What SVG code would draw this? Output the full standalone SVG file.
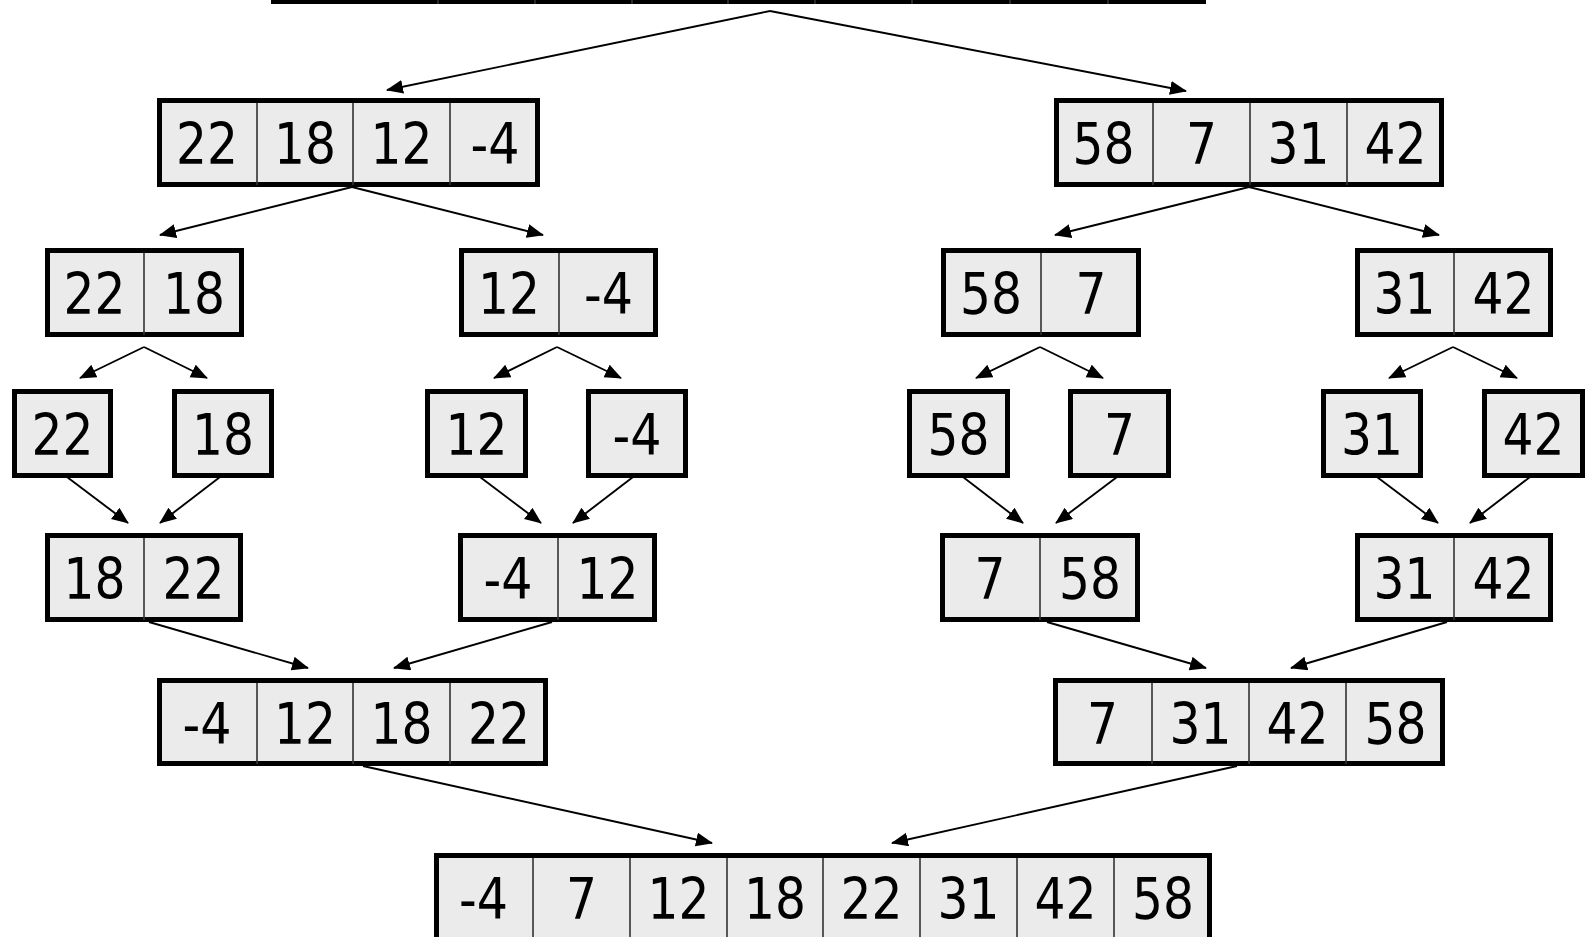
<svg xmlns="http://www.w3.org/2000/svg" width="1586" height="937" viewBox="0 0 1586 937">
<defs>
<style>
.box{fill:#ebebeb;stroke:#000;stroke-width:5}
.dv{stroke:#333;stroke-width:1.6}
.t{font-family:"DejaVu Sans",sans-serif;font-size:57px;text-anchor:middle;fill:#000}
.c{stroke:#000;stroke-width:1.9;fill:none;marker-end:url(#ah)}
</style>
<marker id="ah" markerUnits="userSpaceOnUse" markerWidth="18" markerHeight="15" refX="16" refY="7" orient="auto">
<path d="M0,0 L17,7 L0,14 z" fill="#000"/>
</marker>
</defs>
<rect width="1586" height="937" fill="#fff"/>

<g id="connectors">
<line class="c" x1="770" y1="11" x2="387" y2="90"/>
<line class="c" x1="770" y1="11" x2="1186" y2="91"/>
<line class="c" x1="352" y1="187" x2="160" y2="235"/>
<line class="c" x1="352" y1="187" x2="543" y2="235"/>
<line class="c" x1="1249" y1="187" x2="1055" y2="235"/>
<line class="c" x1="1249" y1="187" x2="1439" y2="235"/>
<line class="c" x1="144" y1="347" x2="80" y2="378"/>
<line class="c" x1="144" y1="347" x2="207" y2="378"/>
<line class="c" x1="557" y1="347" x2="494" y2="378"/>
<line class="c" x1="557" y1="347" x2="621" y2="378"/>
<line class="c" x1="1040" y1="347" x2="976" y2="378"/>
<line class="c" x1="1040" y1="347" x2="1103" y2="378"/>
<line class="c" x1="1453" y1="347" x2="1389" y2="378"/>
<line class="c" x1="1453" y1="347" x2="1517" y2="378"/>
<line class="c" x1="67" y1="477" x2="128" y2="523"/>
<line class="c" x1="220" y1="477" x2="160" y2="523"/>
<line class="c" x1="480" y1="477" x2="541" y2="523"/>
<line class="c" x1="633" y1="477" x2="573" y2="523"/>
<line class="c" x1="963" y1="477" x2="1023" y2="523"/>
<line class="c" x1="1117" y1="477" x2="1056" y2="523"/>
<line class="c" x1="1377" y1="477" x2="1438" y2="523"/>
<line class="c" x1="1530" y1="477" x2="1470" y2="523"/>
<line class="c" x1="149" y1="622" x2="308" y2="668"/>
<line class="c" x1="552" y1="622" x2="394" y2="668"/>
<line class="c" x1="1047" y1="622" x2="1206" y2="668"/>
<line class="c" x1="1447" y1="622" x2="1291" y2="668"/>
<line class="c" x1="363" y1="766" x2="712" y2="843"/>
<line class="c" x1="1237" y1="766" x2="892" y2="843"/>
</g>

<g id="top">
<rect class="box" x="273.5" y="-90" width="930" height="91.5"/>
<path class="dv" d="M438,-80V4 M535,-80V4 M632,-80V4 M728,-80V4 M815,-80V4 M912,-80V4 M1010,-80V4 M1108,-80V4"/>
</g>

<g id="l1a">
<rect class="box" x="159.5" y="100.5" width="378" height="84"/>
<path class="dv" d="M257,103V185 M353,103V185 M450,103V185"/>
<text class="t" x="207" y="164" textLength="62" lengthAdjust="spacingAndGlyphs">22</text><text class="t" x="305" y="164" textLength="62" lengthAdjust="spacingAndGlyphs">18</text><text class="t" x="401.5" y="164" textLength="62" lengthAdjust="spacingAndGlyphs">12</text><text class="t" x="495" y="164" textLength="49" lengthAdjust="spacingAndGlyphs">-4</text>
</g>
<g id="l1b">
<rect class="box" x="1056.5" y="100.5" width="385" height="84"/>
<path class="dv" d="M1153,103V185 M1250,103V185 M1347,103V185"/>
<text class="t" x="1103.5" y="164" textLength="62" lengthAdjust="spacingAndGlyphs">58</text><text class="t" x="1201.5" y="164" textLength="31" lengthAdjust="spacingAndGlyphs">7</text><text class="t" x="1298.5" y="164" textLength="62" lengthAdjust="spacingAndGlyphs">31</text><text class="t" x="1395.5" y="164" textLength="62" lengthAdjust="spacingAndGlyphs">42</text>
</g>

<g id="l2a">
<rect class="box" x="47.5" y="250.5" width="194" height="84"/>
<path class="dv" d="M144,253V335"/>
<text class="t" x="94.5" y="314" textLength="62" lengthAdjust="spacingAndGlyphs">22</text><text class="t" x="194" y="314" textLength="62" lengthAdjust="spacingAndGlyphs">18</text>
</g>
<g id="l2b">
<rect class="box" x="461.5" y="250.5" width="194" height="84"/>
<path class="dv" d="M559,253V335"/>
<text class="t" x="509" y="314" textLength="62" lengthAdjust="spacingAndGlyphs">12</text><text class="t" x="608.5" y="314" textLength="49" lengthAdjust="spacingAndGlyphs">-4</text>
</g>
<g id="l2c">
<rect class="box" x="943.5" y="250.5" width="195" height="84"/>
<path class="dv" d="M1041,253V335"/>
<text class="t" x="991" y="314" textLength="62" lengthAdjust="spacingAndGlyphs">58</text><text class="t" x="1091" y="314" textLength="31" lengthAdjust="spacingAndGlyphs">7</text>
</g>
<g id="l2d">
<rect class="box" x="1357.5" y="250.5" width="193" height="84"/>
<path class="dv" d="M1454,253V335"/>
<text class="t" x="1404.5" y="314" textLength="62" lengthAdjust="spacingAndGlyphs">31</text><text class="t" x="1503.5" y="314" textLength="62" lengthAdjust="spacingAndGlyphs">42</text>
</g>

<g id="l3a"><rect class="box" x="14.5" y="391.5" width="96" height="84"/><text class="t" x="62.5" y="455" textLength="62" lengthAdjust="spacingAndGlyphs">22</text></g>
<g id="l3b"><rect class="box" x="174.5" y="391.5" width="97" height="84"/><text class="t" x="223" y="455" textLength="62" lengthAdjust="spacingAndGlyphs">18</text></g>
<g id="l3c"><rect class="box" x="427.5" y="391.5" width="98" height="84"/><text class="t" x="476.5" y="455" textLength="62" lengthAdjust="spacingAndGlyphs">12</text></g>
<g id="l3d"><rect class="box" x="588.5" y="391.5" width="97" height="84"/><text class="t" x="637" y="455" textLength="49" lengthAdjust="spacingAndGlyphs">-4</text></g>
<g id="l3e"><rect class="box" x="909.5" y="391.5" width="98" height="84"/><text class="t" x="958.5" y="455" textLength="62" lengthAdjust="spacingAndGlyphs">58</text></g>
<g id="l3f"><rect class="box" x="1070.5" y="391.5" width="98" height="84"/><text class="t" x="1119.5" y="455" textLength="31" lengthAdjust="spacingAndGlyphs">7</text></g>
<g id="l3g"><rect class="box" x="1323.5" y="391.5" width="97" height="84"/><text class="t" x="1372" y="455" textLength="62" lengthAdjust="spacingAndGlyphs">31</text></g>
<g id="l3h"><rect class="box" x="1484.5" y="391.5" width="98" height="84"/><text class="t" x="1533.5" y="455" textLength="62" lengthAdjust="spacingAndGlyphs">42</text></g>

<g id="l4a">
<rect class="box" x="47.5" y="535.5" width="193" height="84"/>
<path class="dv" d="M144,538V620"/>
<text class="t" x="94.5" y="599" textLength="62" lengthAdjust="spacingAndGlyphs">18</text><text class="t" x="193.5" y="599" textLength="62" lengthAdjust="spacingAndGlyphs">22</text>
</g>
<g id="l4b">
<rect class="box" x="460.5" y="535.5" width="194" height="84"/>
<path class="dv" d="M558,538V620"/>
<text class="t" x="508" y="599" textLength="49" lengthAdjust="spacingAndGlyphs">-4</text><text class="t" x="607.5" y="599" textLength="62" lengthAdjust="spacingAndGlyphs">12</text>
</g>
<g id="l4c">
<rect class="box" x="942.5" y="535.5" width="195" height="84"/>
<path class="dv" d="M1040,538V620"/>
<text class="t" x="990" y="599" textLength="31" lengthAdjust="spacingAndGlyphs">7</text><text class="t" x="1090" y="599" textLength="62" lengthAdjust="spacingAndGlyphs">58</text>
</g>
<g id="l4d">
<rect class="box" x="1357.5" y="535.5" width="193" height="84"/>
<path class="dv" d="M1454,538V620"/>
<text class="t" x="1404.5" y="599" textLength="62" lengthAdjust="spacingAndGlyphs">31</text><text class="t" x="1503.5" y="599" textLength="62" lengthAdjust="spacingAndGlyphs">42</text>
</g>

<g id="l5a">
<rect class="box" x="159.5" y="680.5" width="386" height="83"/>
<path class="dv" d="M257,683V764 M353,683V764 M450,683V764"/>
<text class="t" x="207" y="744" textLength="49" lengthAdjust="spacingAndGlyphs">-4</text><text class="t" x="305" y="744" textLength="62" lengthAdjust="spacingAndGlyphs">12</text><text class="t" x="401.5" y="744" textLength="62" lengthAdjust="spacingAndGlyphs">18</text><text class="t" x="499" y="744" textLength="62" lengthAdjust="spacingAndGlyphs">22</text>
</g>
<g id="l5b">
<rect class="box" x="1055.5" y="680.5" width="387" height="83"/>
<path class="dv" d="M1152,683V764 M1249,683V764 M1346,683V764"/>
<text class="t" x="1102.5" y="744" textLength="31" lengthAdjust="spacingAndGlyphs">7</text><text class="t" x="1200.5" y="744" textLength="62" lengthAdjust="spacingAndGlyphs">31</text><text class="t" x="1297.5" y="744" textLength="62" lengthAdjust="spacingAndGlyphs">42</text><text class="t" x="1395.5" y="744" textLength="62" lengthAdjust="spacingAndGlyphs">58</text>
</g>

<g id="final">
<rect class="box" x="436.5" y="855.5" width="773" height="90"/>
<path class="dv" d="M533,858V940 M630,858V940 M727,858V940 M823,858V940 M920,858V940 M1017,858V940 M1114,858V940"/>
<text class="t" x="483.5" y="919" textLength="49" lengthAdjust="spacingAndGlyphs">-4</text><text class="t" x="581.5" y="919" textLength="31" lengthAdjust="spacingAndGlyphs">7</text><text class="t" x="678.5" y="919" textLength="62" lengthAdjust="spacingAndGlyphs">12</text><text class="t" x="775" y="919" textLength="62" lengthAdjust="spacingAndGlyphs">18</text><text class="t" x="871.5" y="919" textLength="62" lengthAdjust="spacingAndGlyphs">22</text><text class="t" x="968.5" y="919" textLength="62" lengthAdjust="spacingAndGlyphs">31</text><text class="t" x="1065.5" y="919" textLength="62" lengthAdjust="spacingAndGlyphs">42</text><text class="t" x="1163" y="919" textLength="62" lengthAdjust="spacingAndGlyphs">58</text>
</g>
</svg>
